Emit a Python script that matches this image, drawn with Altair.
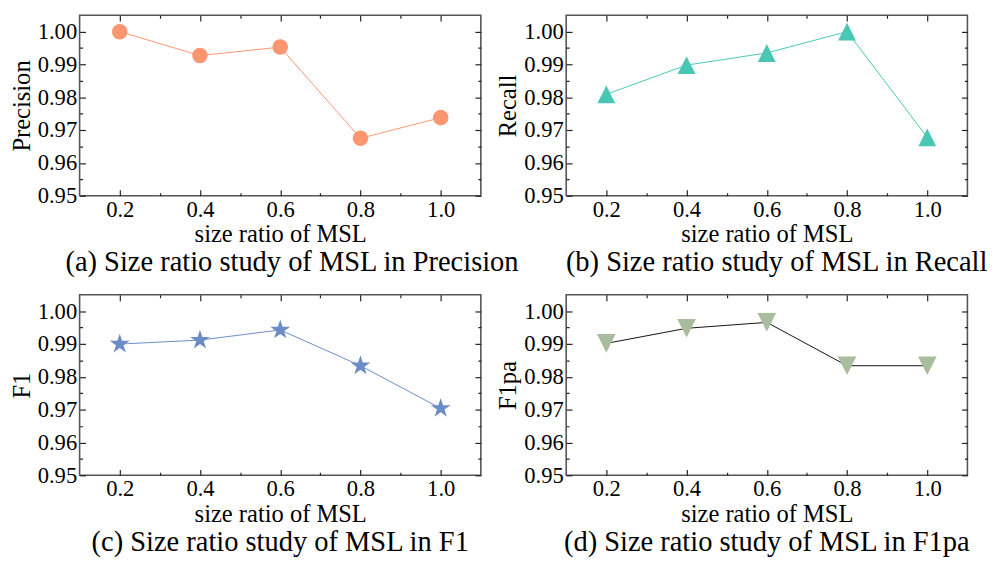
import altair as alt
import pandas as pd

# ---- data ----
x_vals = [0.2, 0.4, 0.6, 0.8, 1.0]
precision = [1.000, 0.9927, 0.9953, 0.9675, 0.9738]
recall = [0.9809, 0.9898, 0.9935, 1.000, 0.9678]
f1 = [0.9900, 0.9912, 0.9943, 0.9834, 0.9704]
f1pa = [0.9902, 0.9948, 0.9966, 0.9834, 0.9834]

metric_names = ["Precision", "Recall", "F1", "F1pa"]
captions = [
    "(a) Size ratio study of MSL in Precision",
    "(b) Size ratio study of MSL in Recall",
    "(c) Size ratio study of MSL in F1",
    "(d) Size ratio study of MSL in F1pa",
]
x_title = "size ratio of MSL"
x_ticks = [0.2, 0.3, 0.4, 0.5, 0.6, 0.7, 0.8, 0.9, 1.0]
y_ticks = [0.95, 0.955, 0.96, 0.965, 0.97, 0.975, 0.98, 0.985, 0.99, 0.995, 1.00]

FONT = "Liberation Serif"
X_MINOR = "round(datum.value*10) % 2 == 1"
Y_MINOR = "round(datum.value*1000) % 10 == 5"
TICK = 6
MINOR_DASH = [0, 3, 3, 20]


def make_axis(orient, minor_test, fmt, labels, title, lab_pad, title_pad):
    kw = dict(
        orient=orient,
        values=x_ticks if orient in ("bottom", "top") else y_ticks,
        offset=-TICK,
        tickSize=TICK,
        tickColor="#222222",
        tickWidth=1.2,
        tickDash={"condition": {"test": minor_test, "value": MINOR_DASH}, "value": [20, 0]},
        domain=False,
        grid=False,
        labels=labels,
        format=fmt,
        labelExpr=f"{minor_test} ? '' : datum.label",
        labelOverlap=False,
        labelFlush=False,
        labelPadding=lab_pad,
        title=title,
        titlePadding=title_pad,
    )
    return alt.Axis(**kw)


def panel(values, name, caption, color, line_color, shape, size, dx):
    df = pd.DataFrame({"x": x_vals, "y": values})
    xs = alt.Scale(domain=[0.1, 1.1], nice=False, zero=False)
    ys = alt.Scale(domain=[0.95, 1.005], nice=False, zero=False)
    line = alt.Chart(df).mark_line(color=line_color, strokeWidth=1).encode(
        x=alt.X("x:Q", scale=xs,
                axis=make_axis("bottom", X_MINOR, ".1f", True, x_title, 3, 1)),
        y=alt.Y("y:Q", scale=ys,
                axis=make_axis("left", Y_MINOR, ".2f", True, name, 3, 3)),
    )
    pts = alt.Chart(df).mark_point(
        filled=True, opacity=1, color=color, shape=shape, size=size
    ).encode(
        x=alt.X("x:Q", scale=xs,
                axis=make_axis("top", X_MINOR, ".1f", False, None, 0, 0)),
        y=alt.Y("y:Q", scale=ys,
                axis=make_axis("right", Y_MINOR, ".2f", False, None, 0, 0)),
    )
    return alt.layer(line, pts).resolve_axis(x="independent", y="independent").properties(
        width=409,
        height=184,
        title=alt.TitleParams(
            caption, orient="bottom", anchor="middle", frame="group",
            font=FONT, fontSize=29, fontWeight="normal", color="black",
            offset=2, dx=dx,
        ),
    )


UP = "M0,-1L1,1L-1,1Z"
DOWN = "M0,1L1,-1L-1,-1Z"
STAR = ("M0,-1L0.2245,-0.309L0.9511,-0.309L0.3633,0.118L0.5878,0.809L0,0.382"
        "L-0.5878,0.809L-0.3633,0.118L-0.9511,-0.309L-0.2245,-0.309Z")

pa = panel(precision, metric_names[0], captions[0], "#FC9670", "#FC9670", "circle", 250, 12)
pb = panel(recall, metric_names[1], captions[1], "#48C8B2", "#48C8B2", UP, 330, 10)
pc = panel(f1, metric_names[2], captions[2], "#6C8CC8", "#6C8CC8", STAR, 450, 0)
pd_ = panel(f1pa, metric_names[3], captions[3], "#AABC9E", "#111111", DOWN, 360, 0)

chart = alt.concat(
    pa, pb, pc, pd_, columns=2, spacing={"row": 101, "column": 87}, bounds="flush"
).properties(
    padding=0, background="white"
).configure_view(
    stroke="#555555", strokeWidth=1.6
).configure_axis(
    labelFont=FONT, labelFontSize=23, labelColor="black",
    titleFont=FONT, titleFontSize=25, titleFontWeight="normal", titleColor="black",
)

chart.save("out.html", embed_options={"renderer": "svg", "actions": False})
